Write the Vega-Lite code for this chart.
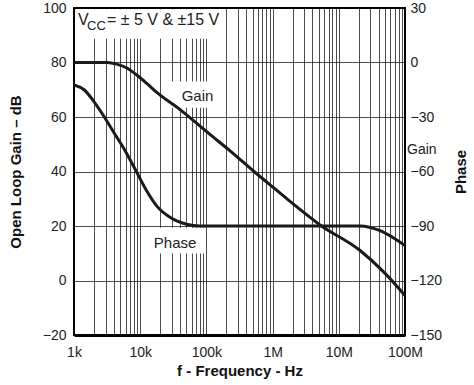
{
  "$schema": "https://vega.github.io/schema/vega-lite/v6.json",
  "width": 331,
  "height": 327,
  "autosize": "none",
  "padding": {"left": 74, "top": 8, "right": 69, "bottom": 50},
  "background": "white",
  "config": {
    "view": {"stroke": "#000", "strokeWidth": 2},
    "font": "Liberation Sans",
    "axis": {
      "labelFont": "Liberation Sans",
      "titleFont": "Liberation Sans",
      "labelFontSize": 14,
      "titleFontSize": 15,
      "titleFontWeight": "bold",
      "labelColor": "#222",
      "titleColor": "#111",
      "ticks": false,
      "domain": false,
      "gridColor": "#000",
      "gridOpacity": 0.7,
      "gridWidth": 1
    }
  },
  "datasets": {
    "gain": [
      {"f": 1000, "dB": 80},
      {"f": 3200, "dB": 80},
      {"f": 4400, "dB": 79.4},
      {"f": 6300, "dB": 78.0},
      {"f": 8900, "dB": 75.4},
      {"f": 12600, "dB": 72.3},
      {"f": 17800, "dB": 69.0},
      {"f": 40000, "dB": 62.7},
      {"f": 113000, "dB": 53.6},
      {"f": 230000, "dB": 47.5},
      {"f": 525000, "dB": 40},
      {"f": 1100000, "dB": 33.5},
      {"f": 1800000, "dB": 29.2},
      {"f": 5200000, "dB": 20.4},
      {"f": 21000000, "dB": 11},
      {"f": 50000000, "dB": 2.6},
      {"f": 100000000, "dB": -5.5}
    ],
    "phase": [
      {"f": 1000, "deg": -12.3},
      {"f": 1420, "deg": -15},
      {"f": 2000, "deg": -21.5},
      {"f": 2840, "deg": -29.7},
      {"f": 4020, "deg": -38.7},
      {"f": 5690, "deg": -47.5},
      {"f": 8050, "deg": -57.5},
      {"f": 12500, "deg": -70.6},
      {"f": 17700, "deg": -78.9},
      {"f": 28200, "deg": -85.2},
      {"f": 50000, "deg": -89},
      {"f": 80000, "deg": -90},
      {"f": 21000000, "deg": -90},
      {"f": 42000000, "deg": -92.6},
      {"f": 100000000, "deg": -100.8}
    ],
    "boxes": [
      {"f1": 1060, "f2": 184000, "d1": 88.7, "d2": 99.5},
      {"f1": 23700, "f2": 191000, "d1": 63.4, "d2": 73.0},
      {"f1": 14100, "f2": 95300, "d1": 9.9, "d2": 19.4}
    ],
    "vLabels": [
      {"label": "V", "f": 1149, "dB": 93.8},
      {"label": "= ± 5 V & ±15 V", "f": 3151, "dB": 93.8}
    ],
    "curveLabels": [
      {"label": "Gain", "f": 73400, "dB": 65.7},
      {"label": "Phase", "f": 33600, "dB": 12.1}
    ],
    "subLabels": [
      {"label": "CC", "f": 1571, "dB": 92.0}
    ],
    "sideLabels": [
      {"label": "Gain", "f": 100000000, "dB": 46.4}
    ]
  },
  "layer": [
    {
      "layer": [
        {
          "data": {"name": "boxes"},
          "mark": {"type": "rect", "fill": "white", "strokeWidth": 0},
          "encoding": {
            "x": {
              "field": "f1",
              "type": "quantitative",
              "scale": {"type": "log", "domain": [1000, 100000000]},
              "axis": {
                "title": "f - Frequency - Hz",
                "values": [1000, 2000, 3000, 4000, 5000, 6000, 7000, 8000, 9000,
                  10000, 20000, 30000, 40000, 50000, 60000, 70000, 80000, 90000,
                  100000, 200000, 300000, 400000, 500000, 600000, 700000, 800000, 900000,
                  1000000, 2000000, 3000000, 4000000, 5000000, 6000000, 7000000, 8000000, 9000000,
                  10000000, 20000000, 30000000, 40000000, 50000000, 60000000, 70000000, 80000000, 90000000,
                  100000000],
                "labelExpr": "datum.value == 1000 ? '1k' : datum.value == 10000 ? '10k' : datum.value == 100000 ? '100k' : datum.value == 1000000 ? '1M' : datum.value == 10000000 ? '10M' : datum.value == 100000000 ? '100M' : ''",
                "labelOverlap": false,
                "labelFlush": false,
                "labelPadding": 10,
                "labelDx": 4,
                "titlePadding": 4,
                "domain": true,
                "domainColor": "#000",
                "domainWidth": 3
              }
            },
            "x2": {"field": "f2"},
            "y": {
              "field": "d1",
              "type": "quantitative",
              "scale": {"domain": [-20, 100]},
              "axis": {
                "title": "Open Loop Gain – dB",
                "values": [-20, 0, 20, 40, 60, 80, 100],
                "labelPadding": 8,
                "titlePadding": 19
              }
            },
            "y2": {"field": "d2"}
          }
        },
        {
          "data": {"name": "gain"},
          "mark": {"type": "line", "stroke": "#1a1a1a", "strokeWidth": 3, "interpolate": "monotone", "clip": true},
          "encoding": {
            "x": {"field": "f", "type": "quantitative"},
            "y": {"field": "dB", "type": "quantitative"}
          }
        },
        {
          "data": {"name": "vLabels"},
          "mark": {"type": "text", "font": "Liberation Sans", "fontSize": 16, "color": "#222", "align": "left", "baseline": "alphabetic"},
          "encoding": {
            "x": {"field": "f", "type": "quantitative"},
            "y": {"field": "dB", "type": "quantitative"},
            "text": {"field": "label"}
          }
        },
        {
          "data": {"name": "curveLabels"},
          "mark": {"type": "text", "font": "Liberation Sans", "fontSize": 15, "color": "#222", "align": "center", "baseline": "alphabetic"},
          "encoding": {
            "x": {"field": "f", "type": "quantitative"},
            "y": {"field": "dB", "type": "quantitative"},
            "text": {"field": "label"}
          }
        },
        {
          "data": {"name": "subLabels"},
          "mark": {"type": "text", "font": "Liberation Sans", "fontSize": 13, "color": "#222", "align": "left", "baseline": "alphabetic"},
          "encoding": {
            "x": {"field": "f", "type": "quantitative"},
            "y": {"field": "dB", "type": "quantitative"},
            "text": {"field": "label"}
          }
        },
        {
          "data": {"name": "sideLabels"},
          "mark": {"type": "text", "font": "Liberation Sans", "fontSize": 14, "color": "#222", "align": "left", "baseline": "alphabetic", "dx": 2, "clip": false},
          "encoding": {
            "x": {"field": "f", "type": "quantitative"},
            "y": {"field": "dB", "type": "quantitative"},
            "text": {"field": "label"}
          }
        }
      ]
    },
    {
      "data": {"name": "phase"},
      "mark": {"type": "line", "stroke": "#1a1a1a", "strokeWidth": 3, "interpolate": "monotone", "clip": true},
      "encoding": {
        "x": {"field": "f", "type": "quantitative"},
        "y": {
          "field": "deg",
          "type": "quantitative",
          "scale": {"domain": [-150, 30]},
          "axis": {
            "orient": "right",
            "title": "Phase",
            "titleAngle": 270,
            "values": [-150, -120, -90, -60, -30, 0, 30],
            "grid": false,
            "labelPadding": 5,
            "titlePadding": 27
          }
        }
      }
    }
  ],
  "resolve": {"scale": {"y": "independent"}}
}
